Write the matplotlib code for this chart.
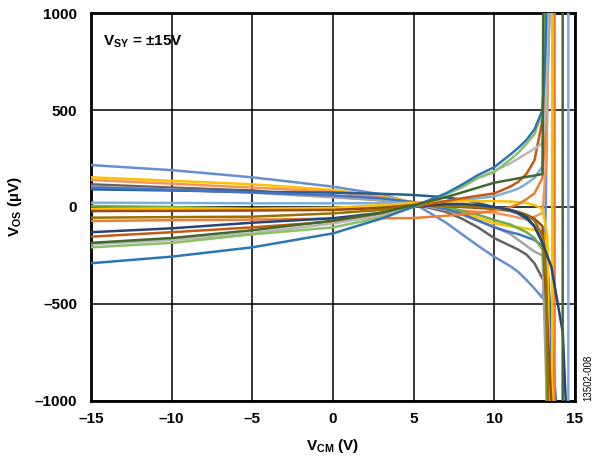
import numpy as np
import matplotlib
matplotlib.use("Agg")
from matplotlib import pyplot as plt

plt.rcParams['font.family'] = ['Liberation Sans', 'DejaVu Sans']
plt.rcParams['font.weight'] = 'bold'
plt.rcParams['mathtext.fontset'] = 'custom'
plt.rcParams['mathtext.rm'] = 'Liberation Sans:bold'
plt.rcParams['mathtext.bf'] = 'Liberation Sans:bold'
plt.rcParams['mathtext.it'] = 'Liberation Sans:bold'

# --------- DATA ---------

# common VCM grid (V) for the smooth part of every curve
vcm = [-15, -10, -5, 0, 3, 5, 7, 8, 9, 10, 11, 11.5, 12, 12.5, 13]

# VOS (uV) for each unit at the vcm grid points
vos_cornflower = [216, 190, 153, 105, 65, 20, -80, -140, -200, -256, -305, -335, -376, -420, -470]
vos_gold = [153, 135, 117, 88, 55, 25, -10, -30, -55, -83, -100, -105, -112, -118, -125]
vos_salmon = [139, 120, 100, 79, 50, 20, -10, -18, -25, -30, -45, -55, -65, -50, -30]
vos_darkgray = [117, 100, 85, 53, 35, 15, -25, -60, -105, -160, -200, -220, -245, -290, -370]
vos_gray = [105, 90, 74, 50, 35, 15, -15, -40, -70, -100, -140, -170, -200, -230, -250]
vos_darkblue = [91, 85, 78, 74, 68, 62, 50, 38, 20, 0, -20, -35, -60, -100, -180]
vos_blue = [100, 88, 75, 60, 45, 25, -10, -35, -70, -105, -130, -140, -155, -170, -200]
vos_lightblue = [22, 21, 19, 19, 20, 22, 30, 38, 45, 55, 80, 95, 120, 150, 210]
vos_green = [5, 0, -10, -5, 5, 15, 0, -20, -40, -67, -90, -110, -130, -160, -220]
vos_yellow = [-10, -8, -10, -5, 10, 20, 28, 30, 30, 30, 28, 25, 20, 10, -10]
vos_brown = [-21, -20, -18, -15, -5, 10, 5, 0, -5, -10, -20, -30, -40, -60, -100]
vos_olive = [-55, -52, -50, -33, -15, 5, 5, 3, 0, -5, -15, -25, -40, -70, -150]
vos_orange = [-72, -68, -65, -60, -58, -57, -45, -38, -30, -20, 0, 15, 40, 70, 150]
vos_navy = [-130, -110, -81, -58, -30, 0, 15, 15, 10, 0, -15, -30, -50, -100, -186]
vos_darkorange = [-153, -130, -105, -76, -40, 0, 30, 45, 58, 70, 105, 130, 170, 240, 450]
vos_lightgray = [-192, -170, -135, -85, -45, 5, 65, 100, 150, 185, 225, 250, 275, 300, 330]
vos_lightgreen = [-208, -185, -141, -105, -55, 0, 65, 105, 150, 180, 245, 280, 325, 375, 490]
vos_steelblue = [-290, -256, -208, -136, -60, 2, 70, 115, 165, 205, 270, 305, 345, 400, 500]
vos_darkgreen = [-185, -160, -120, -70, -30, 10, 50, 75, 100, 125, 140, 148, 155, 162, 170]

# what happens past the rail: extra (VCM, VOS) points per unit
tail_cornflower = ([13.05, 13.15, 13.4], [-430, -250, 1100])
tail_gold = ([13.3, 13.45], [-200, -1100])
tail_salmon = ([13.2, 13.45], [200, 1100])
tail_darkgray = ([13.15, 13.3], [-376, -1100])
tail_gray = ([13.3], [-1100])
tail_darkblue = ([13.3, 13.9], [-300, -1100])
tail_blue = ([13.3, 13.6], [-260, -1100])
tail_lightblue = ([13.2, 13.5, 14.6, 14.6], [500, 1100, 1100, -1100])
tail_green = ([13.2, 13.3], [-400, -1100])
tail_yellow = ([13.3, 13.45, 13.6, 13.6], [-150, -1100, -1100, 1100])
tail_brown = ([13.6], [-1100])
tail_olive = ([13.25, 13.35], [-400, -1100])
tail_orange = ([13.15, 13.3, 13.75, 13.75], [400, 1100, 1100, -1100])
tail_navy = ([13.55, 14.26, 14.49], [-309, -649, -1100])
tail_darkorange = ([13.15, 13.3], [800, 1100])
tail_lightgray = ([13.2, 13.35], [500, 1100])
tail_lightgreen = ([13.1, 13.2], [700, 1100])
tail_steelblue = ([13.1, 13.2, 13.25], [650, 850, 1100])
tail_darkgreen = ([13.05, 14.25, 14.25], [1100, 1100, -1100])

units = [
    (vos_cornflower, tail_cornflower, '#698ED0'),
    (vos_gold, tail_gold, '#FFC000'),
    (vos_salmon, tail_salmon, '#F1975A'),
    (vos_darkgray, tail_darkgray, '#636363'),
    (vos_gray, tail_gray, '#A5A5A5'),
    (vos_darkblue, tail_darkblue, '#255E91'),
    (vos_blue, tail_blue, '#4472C4'),
    (vos_lightblue, tail_lightblue, '#7CAFDD'),
    (vos_green, tail_green, '#70AD47'),
    (vos_yellow, tail_yellow, '#FFC000'),
    (vos_brown, tail_brown, '#9E480E'),
    (vos_olive, tail_olive, '#997300'),
    (vos_orange, tail_orange, '#ED7D31'),
    (vos_navy, tail_navy, '#264478'),
    (vos_darkorange, tail_darkorange, '#C55A11'),
    (vos_lightgray, tail_lightgray, '#B7B7B7'),
    (vos_lightgreen, tail_lightgreen, '#8CC168'),
    (vos_steelblue, tail_steelblue, '#2E75B6'),
    (vos_darkgreen, tail_darkgreen, '#43682B'),
]

x_ticks = [-15, -10, -5, 0, 5, 10, 15]
y_ticks = [-1000, -500, 0, 500, 1000]

# --------- PLOT ---------

fig, ax = plt.subplots(figsize=(5.95, 4.58), dpi=100)
fig.subplots_adjust(left=0.153, right=0.966, bottom=0.1245, top=0.9716)

for vals, tail, color in units:
    xs = list(vcm) + tail[0]
    ys = list(vals) + tail[1]
    ax.plot(xs, ys, color=color, lw=1.8, solid_joinstyle='round', zorder=3)

ax.set_xlim(-15, 15)
ax.set_ylim(-1000, 1000)
ax.set_xticks(x_ticks)
ax.set_yticks(y_ticks)
ax.set_xticklabels([str(t).replace('-', '\u2013') for t in x_ticks])
ax.set_yticklabels([str(t).replace('-', '\u2013') for t in y_ticks])
ax.tick_params(length=0, labelsize=11)
ax.tick_params(axis='y', pad=10)
ax.tick_params(axis='x', pad=8)
ax.grid(True, color='black', lw=1.1, zorder=1)
ax.set_axisbelow(True)
for s in ax.spines.values():
    s.set_linewidth(2)

ax.set_xlabel(r'V$_{\mathrm{CM}}$ (V)', fontsize=11, fontweight='bold', labelpad=8)
ax.set_ylabel(r'V$_{\mathrm{OS}}$ (µV)', fontsize=11, fontweight='bold', labelpad=8)
ax.text(0.025, 0.925, r'V$_{\mathrm{SY}}$ = ±15V', transform=ax.transAxes,
        fontsize=11, fontweight='bold', va='center', ha='left')
fig.text(0.988, 0.175, '13502-008', rotation=90, fontsize=7, fontweight='normal',
         ha='center', va='center')

fig.savefig('out.png', dpi=100)
